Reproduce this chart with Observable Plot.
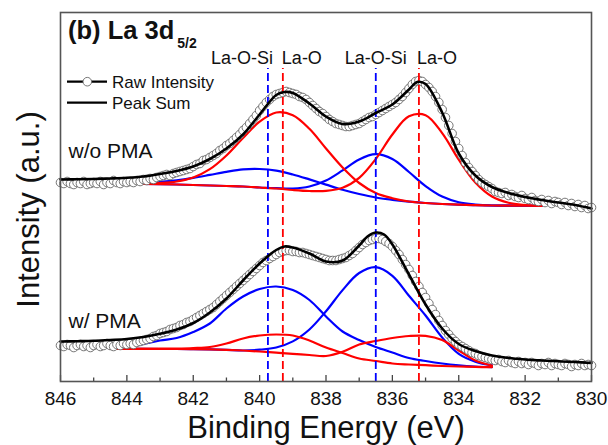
<!DOCTYPE html>
<html><head><meta charset="utf-8">
<script src="https://cdn.jsdelivr.net/npm/d3@7"></script>
<script src="https://cdn.jsdelivr.net/npm/@observablehq/plot@0.6"></script>
<style>
html,body{margin:0;padding:0;background:#fff;}
#chart{width:608px;height:445px;}
</style></head><body><div id="chart"></div>
<script>
// ---- data (binding energy in eV, intensity in arbitrary units) ----
const xTicksMajor = [846, 844, 842, 840, 838, 836, 834, 832, 830];
const xTicksMinor = [845, 843, 841, 839, 837, 835, 833, 831];
const xLabel = "Binding Energy (eV)";
const yLabel = "Intensity (a.u.)";
const titleMain = "(b) La 3d";
const titleSub = "5/2";
const sampleTop = "w/o PMA";
const sampleBottom = "w/ PMA";
const legendRaw = "Raw Intensity";
const legendSum = "Peak Sum";

const rawStart = 846, rawStep = 0.1;
const rawTop = [199,198,200,198,197,199,198,200,197,198,199,
198,200,197,199,198,201,199,198,200,199,
200,199,201,200,202,201,203,202,204,205,
206,207,206,208,209,210,211,212,213,215,
217,218,221,222,224,226,228,231,233,236,
238,241,244,247,251,254,258,262,266,271,
275,279,282,285,287,288,289,290,289,288,
287,285,284,282,279,276,273,270,268,265,
262,260,258,257,256,255,255,256,257,258,
260,262,264,265,267,269,271,273,275,277,
279,282,285,289,293,297,300,301,300,297,
294,290,285,279,272,264,256,248,240,233,
226,219,214,210,206,202,199,197,195,193,
190,189,188,189,186,187,185,184,186,183,
182,184,181,180,182,179,181,178,180,179,
177,179,176,178,175,177,174,176,173,174];
const rawBottom = [36,35,37,36,34,36,37,35,36,34,36,
37,35,36,38,36,35,37,36,38,37,
38,37,39,40,41,42,43,45,46,48,
49,50,52,53,54,56,57,59,60,62,
64,66,68,70,72,74,77,80,83,86,
89,92,95,98,101,104,107,110,113,116,
119,121,123,125,127,129,130,131,131,130,
130,129,129,128,127,126,125,124,123,122,
121,121,121,122,123,124,126,128,131,134,
137,139,141,142,143,143,142,140,138,135,
131,127,122,117,112,106,100,95,89,84,
78,72,67,61,56,51,47,43,40,37,
35,33,31,29,28,26,25,24,23,22,
21,22,20,19,21,19,18,20,18,19,
17,19,18,16,18,17,19,16,18,17,
16,18,17,15,17,16,18,16,17,16];

const sumTopE = [846,845.5,845,844.5,844,843.5,843,842.5,842,841.5,841,840.5,840,839.5,839.25,839,838.5,838,837.5,837,836.5,836,835.5,835.25,835,834.5,834,833.5,833,832.5,832,831.5,831,830.5,830];
const sumTopI = [202,202.2,202.5,203,203.7,205,207.5,210.5,215,222.5,233,247,267,286.5,289.5,288.5,278,265,257.5,260,268.5,277,292,299.5,297.5,269,228,206,194.5,188.5,184.5,181.5,179,176.5,173];
const sumBotE = [846,845.5,845,844.5,844,843.5,843,842.5,842,841.5,841,840.5,840,839.5,839.25,839,838.5,838,837.5,837,836.75,836.5,836.25,836,835.5,835,834.5,834,833.5,833,832.5,832,831.5,831,830.5,830];
const sumBotI = [40,40.3,40.7,41.5,42.5,44.5,47.7,52,58.5,69,83,101,118,131.5,135,134,128,120,121,136,145,149,147,137,107,77,53,37.5,30.5,26,23.5,22,21,20.2,19.5,18.5];

const compTopE = [844.5,844,843.5,843,842.5,842,841.5,841,840.5,840,839.5,839,838.5,838,837.5,837,836.5,836,835.5,835,834.5,834,833.5,833,832.5,832,831.5];
const topLaO1 = [198,197.8,197.7,198.4,200,204,212.3,226,243.5,259.8,269,266.3,252.7,233,214,198.5,188.5,183.3,180,178.5,177.5,176.8,176.3,176,175.9,175.8,175.7];
const topLaO2 = [198,197.8,197.7,197.4,197,196.5,196,195.5,195,194,193,191.5,190.5,190.6,193.7,203.6,222.5,247,265.2,266.3,248.4,221.8,199,185,178.7,176.5,175.7];
const topLaOSi1 = [198,198.3,198.8,199.7,201.2,203.6,206.6,209.7,212.1,212.5,210.9,207,202.1,196.9,191.8,187.5,184,181.7,179.8,178.5,177.5,176.8,176.3,176,175.9,175.8,175.7];
const topLaOSi2 = [198,197.8,197.7,197.4,197,196.5,196,195.5,195,194,193.4,193,195,201,211.1,222.1,227.3,222.5,209.5,195.4,184.9,179.3,177,176,175.9,175.8,175.7];

const compBotE = [844.5,844,843.5,843,842.5,842,841.5,841,840.5,840,839.5,839,838.5,838,837.5,837,836.5,836,835.5,835,834.5,834,833.5,833];
const botLaO1 = [32.7,32.7,32.7,32.8,33,33.5,34.5,38,43,46,47,46,41,34,28.5,23,20.5,18,17,16.3,15.5,15,14.6,14.3];
const botLaO2 = [32.7,32.7,32.6,32.5,32.5,32.4,32.2,31.7,31,30,28.8,27.7,26.5,25.5,29.7,37,40.5,43.5,45.5,45.7,41.5,31,21,16];
const botLaOSi1 = [32.7,35,37.5,41,43.5,49.5,58,73,85,92.5,95,91.5,81.5,65,50,41.5,34.5,29,23.5,20.5,18,16.2,15,14.3];
const botLaOSi2 = [32.7,32.7,32.6,32.5,32.5,32.4,32.2,31.7,31,31.8,34,40.1,52,70.2,91.4,108.5,114.3,105.7,85.7,66,44,27.6,19.8,16.1];

const peakPositions = [839.75, 839.3, 836.5, 835.2];
const peakBonds = ["La-O-Si", "La-O", "La-O-Si", "La-O"];
const peakLineTop = 313;

// ---- tables ----
const raw = [
  ...rawTop.map((v, i) => ({E: rawStart - i * rawStep, I: v})),
  ...rawBottom.map((v, i) => ({E: rawStart - i * rawStep, I: v}))
];
const sums = [
  ...sumTopE.map((e, i) => ({E: e, I: sumTopI[i], s: "top"})),
  ...sumBotE.map((e, i) => ({E: e, I: sumBotI[i], s: "bot"}))
];
function comp(E, arr, key, bond) { return arr.map((v, i) => ({E: E[i], I: v, key, bond})); }
const comps = [
  ...comp(compTopE, topLaOSi1, "t1", "La-O-Si"),
  ...comp(compTopE, topLaOSi2, "t2", "La-O-Si"),
  ...comp(compBotE, botLaOSi1, "b1", "La-O-Si"),
  ...comp(compBotE, botLaOSi2, "b2", "La-O-Si"),
  ...comp(compTopE, topLaO1, "t3", "La-O"),
  ...comp(compTopE, topLaO2, "t4", "La-O"),
  ...comp(compBotE, botLaO1, "b3", "La-O"),
  ...comp(compBotE, botLaO2, "b4", "La-O")
];
const peaks = peakPositions.map((x, i) => ({x, bond: peakBonds[i], i}));
const bondColor = b => b === "La-O" ? "#ff0000" : "#0000ff";
const font = "'Liberation Sans', Arial, sans-serif";

const plot = Plot.plot({
  width: 608, height: 445,
  marginLeft: 60, marginRight: 17, marginTop: 12, marginBottom: 64,
  style: {fontFamily: font, background: "white", color: "#111"},
  x: {domain: [846, 830]},
  y: {domain: [0, 369], axis: null},
  marks: [
    Plot.line(comps.filter(d => d.bond === "La-O-Si"), {x: "E", y: "I", z: "key", stroke: "#0000ff", strokeWidth: 2.2, curve: "catmull-rom"}),
    Plot.line(comps.filter(d => d.bond === "La-O"), {x: "E", y: "I", z: "key", stroke: "#ff0000", strokeWidth: 2.2, curve: "catmull-rom"}),
    Plot.dot(raw, {x: "E", y: "I", r: 4.3, fill: "white", stroke: "#666", strokeWidth: 0.9}),
    Plot.ruleX(peaks, {x: "x", y1: 0, y2: peakLineTop, stroke: d => bondColor(d.bond), strokeWidth: 1.8, strokeDasharray: "8,4"}),
    Plot.line(sums, {x: "E", y: "I", z: "s", stroke: "black", strokeWidth: 2.6, curve: "catmull-rom"}),
    Plot.text(peaks.filter(d => d.i === 0), {x: "x", text: "bond", frameAnchor: "top", dy: 51.5, dx: 5, lineAnchor: "bottom", textAnchor: "end", fontSize: 18, fill: "#111"}),
    Plot.text(peaks.filter(d => d.i === 1), {x: "x", text: "bond", frameAnchor: "top", dy: 51.5, dx: -1, lineAnchor: "bottom", textAnchor: "start", fontSize: 18, fill: "#111"}),
    Plot.text(peaks.filter(d => d.i === 2), {x: "x", text: "bond", frameAnchor: "top", dy: 51.5, lineAnchor: "bottom", textAnchor: "middle", fontSize: 18, fill: "#111"}),
    Plot.text(peaks.filter(d => d.i === 3), {x: "x", text: "bond", frameAnchor: "top", dy: 51.5, dx: -2, lineAnchor: "bottom", textAnchor: "start", fontSize: 18, fill: "#111"}),
    Plot.text([sampleTop], {text: d => d, frameAnchor: "top-left", dx: 8, dy: 145, lineAnchor: "bottom", textAnchor: "start", fontSize: 21, fill: "#111"}),
    Plot.text([sampleBottom], {text: d => d, frameAnchor: "top-left", dx: 8, dy: 315, lineAnchor: "bottom", textAnchor: "start", fontSize: 21, fill: "#111"}),
    Plot.ruleX(xTicksMajor, {x: d => d, insetTop: 363, stroke: "#444", strokeWidth: 1.3}),
    Plot.ruleX(xTicksMinor, {x: d => d, insetTop: 365.5, stroke: "#444", strokeWidth: 1.3}),
    Plot.axisX(xTicksMajor, {tickSize: 0, tickPadding: 10, fontSize: 19, label: null, color: "#111"}),
    Plot.text([xLabel], {text: d => d, frameAnchor: "bottom", dy: 56, lineAnchor: "bottom", textAnchor: "middle", fontSize: 31, fill: "#111"}),
    Plot.text([yLabel], {text: d => d, frameAnchor: "left", rotate: -90, dx: -22, dy: 12.5, lineAnchor: "bottom", textAnchor: "middle", fontSize: 31, fill: "#111"}),
    Plot.frame({stroke: "#555", strokeWidth: 1.6})
  ]
});
document.getElementById("chart").appendChild(plot);

// title and legend
const svg = d3.select(plot);
const t = svg.append("text").attr("x", 68).attr("y", 39).attr("font-family", font)
  .attr("text-anchor", "start").attr("font-weight", "bold").attr("font-size", 25.5).attr("fill", "#111");
t.append("tspan").text(titleMain);
t.append("tspan").attr("dx", 3).attr("dy", 9).attr("font-size", 14).text(titleSub);

const lg = svg.append("g").attr("font-family", font).attr("text-anchor", "start").attr("font-size", 17).attr("fill", "#111");
lg.append("line").attr("x1", 67).attr("x2", 107).attr("y1", 81.7).attr("y2", 81.7).attr("stroke", "black").attr("stroke-width", 2.2);
lg.append("circle").attr("cx", 87.3).attr("cy", 81.7).attr("r", 4.3).attr("fill", "white").attr("stroke", "#666").attr("stroke-width", 0.9);
lg.append("text").attr("x", 112).attr("y", 87.5).text(legendRaw);
lg.append("line").attr("x1", 67).attr("x2", 107).attr("y1", 102.7).attr("y2", 102.7).attr("stroke", "black").attr("stroke-width", 2.2);
lg.append("text").attr("x", 112).attr("y", 108.5).text(legendSum);
</script></body></html>
